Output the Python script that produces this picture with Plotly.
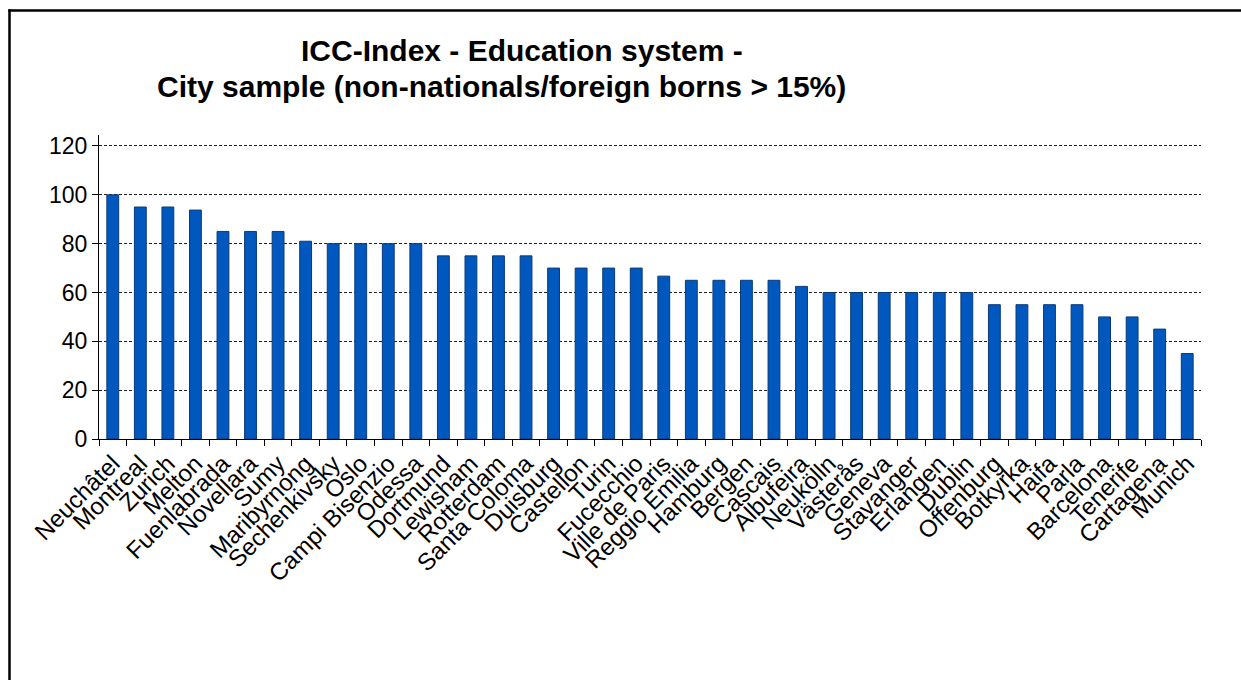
import plotly.graph_objects as go

# City names along the x axis (sorted by score)
cities = [
    "Neuchâtel", "Montreal", "Zurich", "Melton", "Fuenlabrada", "Novellara", "Sumy",
    "Maribyrnong", "Sechenkivsky", "Oslo", "Campi Bisenzio", "Odessa", "Dortmund",
    "Lewisham", "Rotterdam", "Santa Coloma", "Duisburg", "Castellon", "Turin",
    "Fucecchio", "Ville de Paris", "Reggio Emilia", "Hamburg", "Bergen", "Cascais",
    "Albufeira", "Neukölln", "Västerås", "Geneva", "Stavanger", "Erlangen", "Dublin",
    "Offenburg", "Botkyrka", "Haifa", "Parla", "Barcelona", "Tenerife", "Cartagena",
    "Munich",
]

# ICC education-system index per city
scores = [
    100, 95, 95, 93.75, 85, 85, 85,
    81, 80, 80, 80, 80, 75,
    75, 75, 75, 70, 70, 70,
    70, 66.7, 65, 65, 65, 65,
    62.5, 60, 60, 60, 60, 60, 60,
    55, 55, 55, 55, 50, 50, 45,
    35,
]

y_ticks = [0, 20, 40, 60, 80, 100, 120]

title_line1 = "ICC-Index - Education system -"
title_line2 = "City sample (non-nationals/foreign borns > 15%)"

FONT = "Arial, Liberation Sans, sans-serif"

# plot-area geometry in pixels
W, H = 1241, 680
L, R, T, B = 99, 40, 135, 241
pw, ph = W - L - R, H - T - B
Y_TOP = 124.5


def px_x(x):
    return (x - L) / pw


def px_y(y):
    return (H - B - y) / ph


fig = go.Figure(
    go.Bar(
        x=cities,
        y=scores,
        marker=dict(color="#0058BE", line=dict(color="#0A3A78", width=1)),
    )
)

fig.update_layout(
    width=W,
    height=H,
    margin=dict(l=L, r=R, t=T, b=B),
    paper_bgcolor="white",
    plot_bgcolor="white",
    bargap=0.57,
    showlegend=False,
    font=dict(family=FONT, color="black"),
)

fig.update_xaxes(
    type="category",
    tickmode="array",
    tickvals=cities,
    ticktext=cities,
    showline=True,
    linecolor="black",
    linewidth=1,
    ticks="outside",
    tickson="boundaries",
    ticklen=6,
    tickcolor="black",
    tickangle=-45,
    tickfont=dict(size=24, family=FONT, color="black"),
    showgrid=False,
)

fig.update_yaxes(
    range=[0, Y_TOP],
    tickvals=y_ticks,
    showline=True,
    linecolor="black",
    linewidth=1,
    ticks="outside",
    ticklen=6,
    tickcolor="black",
    tickfont=dict(size=23, family=FONT, color="black"),
    showgrid=True,
    gridcolor="#222222",
    gridwidth=1,
    griddash="3px,2px",
    zeroline=False,
)

# two-line bold title
fig.add_annotation(
    text=f"<b>{title_line1}</b>", xref="paper", yref="paper",
    x=px_x(522), y=px_y(51), xanchor="center", yanchor="middle",
    showarrow=False, font=dict(size=30, family=FONT, color="black"),
)
fig.add_annotation(
    text=f"<b>{title_line2}</b>", xref="paper", yref="paper",
    x=px_x(501), y=px_y(86), xanchor="center", yanchor="middle",
    showarrow=False, font=dict(size=30, family=FONT, color="black"),
)

# outer chart frame: only its left and top edges fall inside the page
frame = dict(color="black", width=2.5)
fig.add_shape(
    type="line", xref="paper", yref="paper",
    x0=px_x(9.5), y0=px_y(9.3), x1=px_x(9.5), y1=px_y(H),
    line=frame, layer="above",
)
fig.add_shape(
    type="line", xref="paper", yref="paper",
    x0=px_x(8.3), y0=px_y(10.5), x1=px_x(W), y1=px_y(10.5),
    line=frame, layer="above",
)

fig.write_html("out.html")
